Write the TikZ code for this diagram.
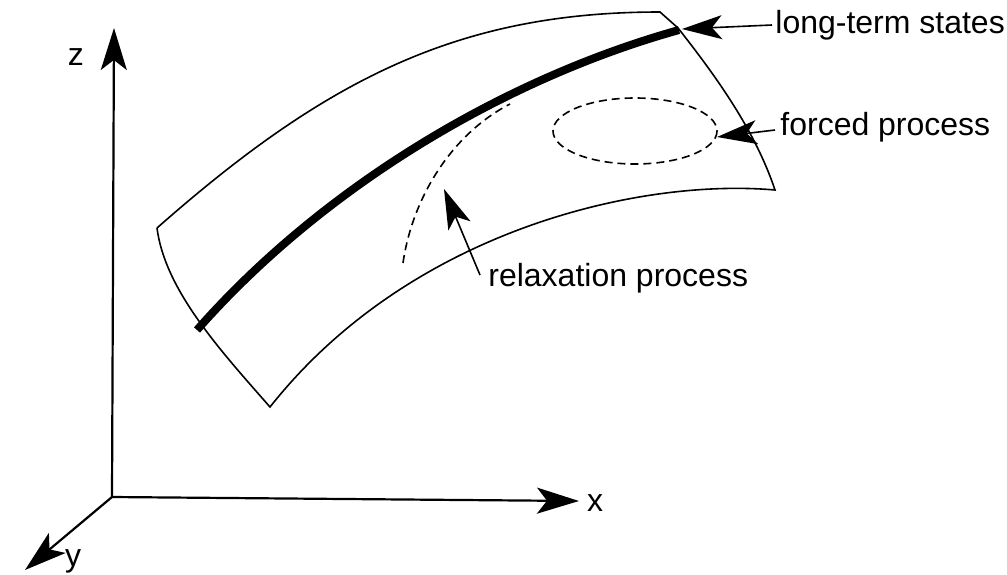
\documentclass[tikz,border=0pt]{standalone}
\usepackage{fontspec}
\setmainfont{Liberation Sans}
\usetikzlibrary{arrows.meta}

\begin{document}
\begin{tikzpicture}[
x=0.5pt, y=-0.5pt,
edge/.style={line width=0.8pt},
axis/.style={line width=1.1pt, -{Stealth[length=21pt, width=13pt, inset=5pt]}},
pointer/.style={line width=0.8pt, -{Stealth[length=20pt, width=12pt, inset=5pt]}},
txt/.style={font=\fontsize{16}{19}\selectfont, inner sep=0pt},
trace/.style={line width=0.8pt, dash pattern=on 4pt off 2.5pt}
]
\useasboundingbox (0,0) rectangle (1007,574);

% axes
\coordinate (O) at (112,497);
\coordinate (ztip) at (114,28);
\coordinate (xtip) at (579,501);
\coordinate (ytip) at (25,570);
\draw[axis] (O) -- (ztip);
\draw[axis] (O) -- (xtip);
\draw[axis] (O) -- (ytip);
\node[txt] (zlab) at (76,57) {z};
\node[txt] (xlab) at (595,503) {x};
\node[txt] (ylab) at (73,561) {y};

% surface
\coordinate (A) at (157,228);
\coordinate (B) at (270,407);
\coordinate (C1) at (660,12);
\coordinate (C2) at (678,28);
\coordinate (D) at (775,190);
\draw[edge] (A) .. controls (327,78) and (460,12) .. (C1) -- (C2)
  .. controls (715,75) and (755,130) .. (D)
  .. controls (640,178) and (410,230) .. (B)
  .. controls (220,350) and (165,290) .. (A);

% long-term states
\coordinate (L0) at (197,330);
\coordinate (L1) at (679,30);
\draw[line width=4pt] (L0) .. controls (320,190) and (500,80) .. (L1);

% relaxation and forced processes
\coordinate (R0) at (403,263);
\coordinate (R1) at (510,104);
\draw[trace] (R0) .. controls (412,200) and (450,135) .. (R1);
\draw[trace] (635,131) ellipse [x radius=82, y radius=33];

% labels
\node[txt, anchor=west] (lts) at (775,25) {long-term states};
\node[txt, anchor=west] (fp) at (780,127) {forced process};
\node[txt, anchor=west] (rp) at (488,278) {relaxation process};
\coordinate (ltip) at (682,29);
\coordinate (ftip) at (717,137);
\coordinate (rtip) at (444,189);
\coordinate (rfoot) at (480,275);
\draw[pointer] (lts.west) ++(-3,0) -- (ltip);
\draw[pointer] (fp.west) ++(-5,3) -- (ftip);
\draw[pointer] (rfoot) -- (rtip);
\end{tikzpicture}
\end{document}
